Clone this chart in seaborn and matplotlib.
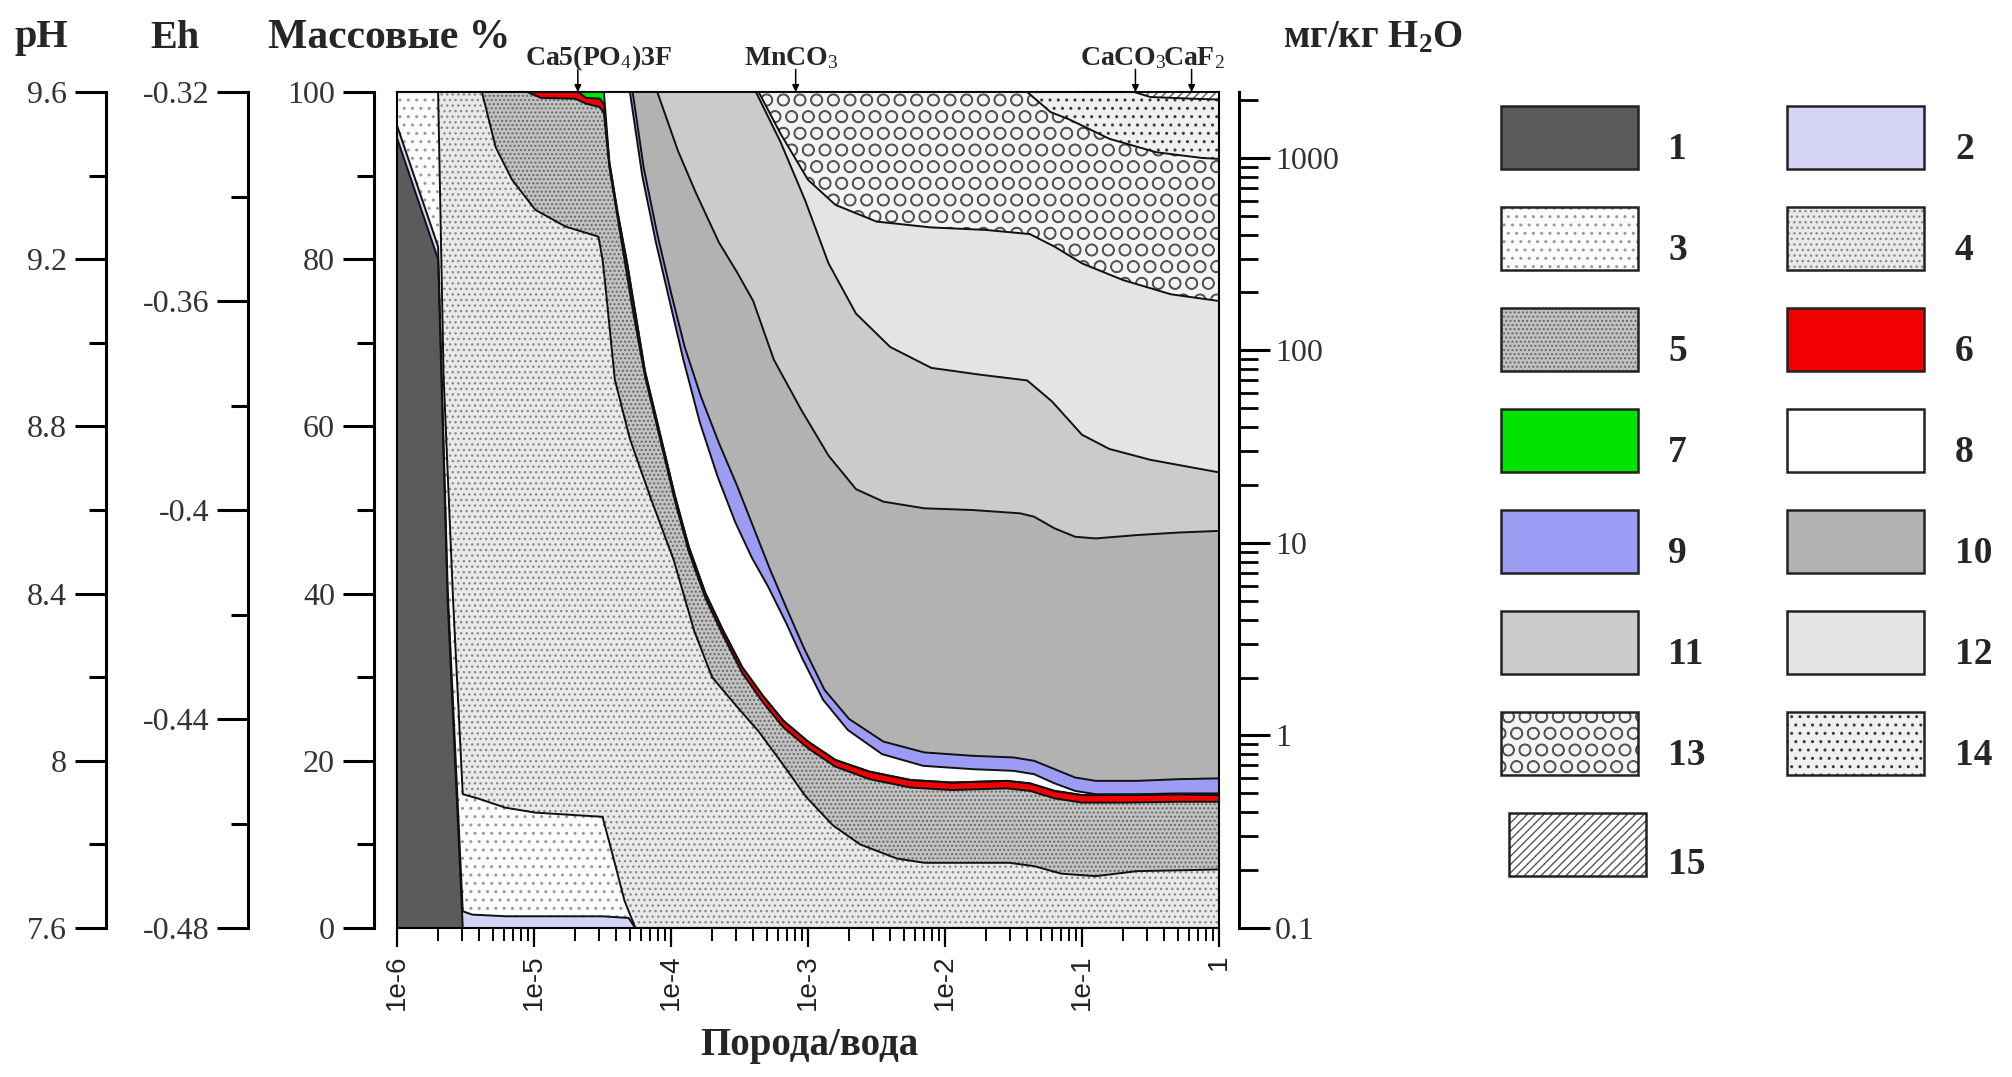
import numpy as np
import matplotlib
matplotlib.use("Agg")
import matplotlib.pyplot as plt
from matplotlib.patches import Rectangle
from matplotlib.ticker import LogLocator, NullFormatter, FixedLocator
import seaborn as sns

sns.set_theme(style="white")
plt.rcParams["font.family"] = ["Liberation Serif", "DejaVu Serif"]
plt.rcParams["mathtext.fontset"] = "custom"
plt.rcParams["mathtext.rm"] = "Liberation Serif"
plt.rcParams["mathtext.bf"] = "Liberation Serif:bold"
plt.rcParams["mathtext.it"] = "Liberation Serif:italic"
plt.rcParams["hatch.linewidth"] = 1.0

# ---------------- data: upper edge (cumulative mass %) of each mineral zone ----------------
# x values are log10(rock/water)
z1_x = [-6.00, -5.70, -5.63, -5.52]
z1_y = [94.5, 80.0, 39.0, 0.0]
z2_x = [-6.00, -5.70, -5.63, -5.52, -5.45, -5.20, -4.50, -4.31, -4.26]
z2_y = [96.0, 81.5, 40.5, 2.0, 1.6, 1.4, 1.4, 1.2, 0.0]
z3_x = [-6.00, -5.70, -5.66, -5.59, -5.52, -5.41, -5.21, -4.99, -4.50, -4.43, -4.34, -4.26]
z3_y = [100.0, 100.0, 66.0, 39.0, 16.0, 15.5, 14.4, 13.8, 13.3, 9.0, 3.3, 0.0]
z4_x = [-6.00, -5.38, -5.28, -5.16, -4.99, -4.77, -4.53, -4.50, -4.48, -4.41, -4.30, -4.15,
        -3.98, -3.83, -3.70, -3.52, -3.36, -3.18, -3.02, -2.82, -2.62, -2.35, -2.15, -1.53,
        -1.35, -1.15, -0.90, -0.60, 0.00]
z4_y = [100.0, 100.0, 93.4, 89.5, 85.9, 83.9, 82.7, 80.0, 77.0, 65.6, 58.5, 51.5,
        44.0, 35.5, 30.0, 26.5, 23.5, 19.5, 15.8, 12.3, 10.0, 8.3, 7.8, 7.8,
        7.4, 6.5, 6.2, 6.8, 7.0]
z5_x = [-6.00, -5.05, -4.95, -4.70, -4.62, -4.52, -4.49, -4.45, -4.39, -4.28, -4.19, -4.08,
        -3.97, -3.87, -3.75, -3.62, -3.48, -3.33, -3.18, -3.00, -2.80, -2.55, -2.25, -1.95,
        -1.55, -1.38, -1.20, -1.00, -0.70, -0.30, 0.00]
z5_y = [100.0, 100.0, 99.3, 99.2, 98.6, 98.2, 97.5, 91.0, 85.0, 74.0, 66.0, 58.5,
        51.0, 45.0, 39.5, 35.0, 30.5, 27.0, 24.0, 21.5, 19.3, 17.8, 16.8, 16.5,
        16.7, 16.4, 15.5, 15.0, 15.0, 15.1, 15.1]
z6_x = [-6.00, -4.68, -4.62, -4.52, -4.49, -4.45, -4.39, -4.32, -4.28, -4.19, -4.08, -3.97,
        -3.87, -3.75, -3.62, -3.48, -3.33, -3.18, -3.00, -2.80, -2.55, -2.25, -1.95, -1.55,
        -1.38, -1.20, -1.00, -0.70, -0.30, 0.00]
z6_y = [100.0, 100.0, 99.3, 99.2, 98.5, 91.6, 85.6, 79.5, 75.5, 66.6, 59.1, 51.6,
        45.6, 40.1, 35.6, 31.2, 27.8, 24.8, 22.3, 20.1, 18.7, 17.7, 17.4, 17.6,
        17.3, 16.4, 15.9, 15.9, 16.0, 15.9]
z7_x = [-6.00, -4.49, -4.45, -4.39, -4.32, -4.28, -4.19, -4.08, -3.97, -3.87, -3.75, -3.62,
        -3.48, -3.33, -3.18, -3.00, -2.80, -2.55, -2.25, -1.95, -1.55, -1.38, -1.20, -1.00,
        -0.70, -0.30, 0.00]
z7_y = [100.0, 100.0, 91.6, 85.6, 79.5, 75.5, 66.6, 59.1, 51.6, 45.6, 40.1, 35.6,
        31.2, 27.8, 24.8, 22.3, 20.1, 18.7, 17.7, 17.4, 17.6, 17.3, 16.4, 15.9,
        15.9, 16.0, 15.9]
z8_x = [-6.00, -4.30, -4.21, -4.11, -4.01, -3.91, -3.79, -3.66, -3.53, -3.41, -3.29, -3.16,
        -3.04, -2.89, -2.71, -2.46, -2.16, -1.80, -1.50, -1.35, -1.20, -1.05, -0.90, -0.60,
        -0.30, 0.00]
z8_y = [100.0, 100.0, 90.0, 82.0, 75.0, 68.0, 60.5, 54.0, 48.5, 44.3, 40.8, 36.5,
        32.2, 27.3, 23.7, 20.8, 19.4, 19.0, 18.8, 18.4, 17.3, 16.4, 16.0, 16.0,
        16.1, 16.1]
z9_x = [-6.00, -4.28, -4.20, -4.10, -4.00, -3.90, -3.78, -3.65, -3.52, -3.40, -3.28, -3.15,
        -3.03, -2.88, -2.70, -2.45, -2.15, -1.80, -1.50, -1.35, -1.20, -1.05, -0.90, -0.60,
        -0.30, 0.00]
z9_y = [100.0, 100.0, 91.0, 83.0, 76.0, 69.5, 63.5, 58.0, 53.0, 48.0, 43.0, 38.0,
        33.5, 28.5, 25.0, 22.3, 21.0, 20.6, 20.4, 20.0, 19.0, 18.0, 17.6, 17.6,
        17.8, 17.9]
z10_x = [-6.00, -4.10, -3.95, -3.82, -3.65, -3.52, -3.40, -3.25, -3.05, -2.85, -2.65, -2.45,
         -2.15, -1.80, -1.45, -1.35, -1.20, -1.05, -0.90, -0.60, -0.30, 0.00]
z10_y = [100.0, 100.0, 93.0, 88.0, 82.0, 78.5, 75.0, 68.0, 62.0, 56.5, 52.5, 51.0,
         50.2, 50.0, 49.6, 49.2, 47.8, 46.8, 46.6, 47.0, 47.3, 47.5]
z11_x = [-6.00, -3.38, -3.20, -3.02, -2.85, -2.65, -2.40, -2.10, -1.75, -1.40, -1.22, -1.00,
         -0.80, -0.50, 0.00]
z11_y = [100.0, 100.0, 94.0, 87.0, 79.5, 73.5, 69.5, 67.0, 66.2, 65.5, 63.0, 59.0,
         57.3, 56.0, 54.5]
z12_x = [-6.00, -3.36, -3.20, -3.00, -2.80, -2.50, -2.10, -1.70, -1.38, -1.20, -1.00, -0.70,
         -0.35, 0.00]
z12_y = [100.0, 100.0, 95.0, 89.5, 86.5, 84.5, 83.8, 83.5, 83.0, 81.5, 79.5, 77.5,
         75.8, 75.0]
z13_x = [-6.00, -1.40, -1.23, -1.09, -0.80, -0.46, -0.12, 0.00]
z13_y = [100.0, 100.0, 97.6, 96.7, 94.4, 92.8, 92.1, 92.0]
z14_x = [-6.00, -0.62, -0.50, -0.20, 0.00]
z14_y = [100.0, 100.0, 99.4, 99.2, 99.1]
z15_x = [-6.00, 0.00]
z15_y = [100.0, 100.0]

zone_labels = [str(i) for i in range(1, 16)]
x_tick_labels = ["1e-6", "1e-5", "1e-4", "1e-3", "1e-2", "1e-1", "1"]
ph_ticks = [7.6, 8.0, 8.4, 8.8, 9.2, 9.6]
ph_labels = ["7.6", "8", "8.4", "8.8", "9.2", "9.6"]
eh_ticks = [-0.48, -0.44, -0.40, -0.36, -0.32]
eh_labels = ["-0.48", "-0.44", "-0.4", "-0.36", "-0.32"]
pct_ticks = [0, 20, 40, 60, 80, 100]
conc_ticks = [0.1, 1, 10, 100, 1000]
conc_labels = ["0.1", "1", "10", "100", "1000"]
minerals = ["Ca5(PO$_4$)3F", "MnCO$_3$", "CaCO$_3$", "CaF$_2$"]
mineral_pos = [-4.68, -3.09, -0.61, -0.20]
mineral_text_pos = [-4.53, -3.12, -0.70, -0.18]

zones_x = [z1_x, z2_x, z3_x, z4_x, z5_x, z6_x, z7_x, z8_x, z9_x, z10_x, z11_x, z12_x, z13_x, z14_x, z15_x]
zones_y = [z1_y, z2_y, z3_y, z4_y, z5_y, z6_y, z7_y, z8_y, z9_y, z10_y, z11_y, z12_y, z13_y, z14_y, z15_y]

# ---------------- styles ----------------
styles = [
    dict(fc="#5b5b5b", hatch=None, hc=None),
    dict(fc="#d6d4f6", hatch=None, hc=None),
    dict(fc="#fcfcfc", hatch="..", hc="#9a9a9a"),
    dict(fc="#e9e9e9", hatch="...", hc="#8a8a8a"),
    dict(fc="#c2c2c2", hatch="....", hc="#676767"),
    dict(fc="#f00000", hatch=None, hc=None),
    dict(fc="#00e400", hatch=None, hc=None),
    dict(fc="#ffffff", hatch=None, hc=None),
    dict(fc="#9c9cf4", hatch=None, hc=None),
    dict(fc="#b2b2b2", hatch=None, hc=None),
    dict(fc="#cbcbcb", hatch=None, hc=None),
    dict(fc="#e4e4e4", hatch=None, hc=None),
    dict(fc="#f4f4f4", hatch="O", hc="#555555"),
    dict(fc="#f0f0f0", hatch="..", hc="#3a3a3a"),
    dict(fc="#ffffff", hatch="////", hc="#555555"),
]

W, H = 2012, 1077
fig = plt.figure(figsize=(W / 100, H / 100), dpi=100)
fig.patch.set_facecolor("white")

PL, PR, PT, PB = 397, 1219, 92, 928


def fx(px):
    return px / W


def fy(py):
    return 1 - py / H


ax = fig.add_axes([fx(PL), fy(PB), (PR - PL) / W, (PB - PT) / H])
ax.set_xscale("log")
ax.set_xlim(1e-6, 1)
ax.set_ylim(0, 100)
ax.set_facecolor("white")

for k in reversed(range(15)):
    xs = 10 ** np.asarray(zones_x[k])
    ys = np.asarray(zones_y[k])
    st = styles[k]
    if st["hatch"]:
        ax.fill_between(xs, 0, ys, facecolor=st["fc"], edgecolor=st["hc"],
                        hatch=st["hatch"], linewidth=0, zorder=2)
    else:
        ax.fill_between(xs, 0, ys, facecolor=st["fc"], edgecolor="none",
                        linewidth=0, zorder=2)

for k in range(15):
    xs = 10 ** np.asarray(zones_x[k])
    ys = np.asarray(zones_y[k])
    sns.lineplot(x=xs, y=ys, ax=ax, color="#111111", linewidth=1.4,
                 sort=False, estimator=None, legend=False, zorder=3)

ax.set_yticks([])
ax.set_xticks([10.0 ** p for p in range(-6, 1)])
ax.set_xticklabels(x_tick_labels, fontfamily="Liberation Sans", fontsize=20,
                   rotation=90, color="#222222")
ax.xaxis.set_minor_locator(LogLocator(base=10, subs=np.arange(2, 10), numticks=30))
ax.xaxis.set_minor_formatter(NullFormatter())
ax.tick_params(axis="x", which="major", direction="out", length=14, width=1.6,
               pad=5, bottom=True, top=False, color="black")
ax.tick_params(axis="x", which="minor", direction="out", length=9, width=1.4,
               bottom=True, top=False, color="black")
for s in ax.spines.values():
    s.set_visible(True)
    s.set_color("black")
    s.set_linewidth(1.5)
ax.set_xlabel("")
ax.set_ylabel("")

# mineral annotations along top
for name, xp, tp in zip(minerals, mineral_pos, mineral_text_pos):
    ax.annotate("", xy=(10 ** xp, 100), xytext=(10 ** xp, 102.7),
                arrowprops=dict(arrowstyle="-|>", color="black", lw=1.1,
                                mutation_scale=10, shrinkA=0, shrinkB=0),
                annotation_clip=False)
    ax.text(10 ** tp, 104.0, name, ha="center", va="center", fontsize=20,
            fontweight="bold", clip_on=False)


# ---------------- side axes ----------------
def side_axis(xpix, lo, hi, ticks, labels, minor):
    a = fig.add_axes([fx(xpix), fy(PB), 0.0004, (PB - PT) / H])
    a.set_ylim(lo, hi)
    a.patch.set_visible(False)
    for s in ["top", "right", "bottom"]:
        a.spines[s].set_visible(False)
    a.spines["left"].set_linewidth(2.2)
    a.spines["left"].set_color("black")
    a.set_xticks([])
    a.yaxis.set_major_locator(FixedLocator(ticks))
    a.set_yticklabels(labels)
    a.yaxis.set_minor_locator(FixedLocator(minor))
    a.tick_params(axis="y", which="major", direction="out", length=22, width=2.2,
                  labelsize=23, pad=6, labelcolor="#333333", color="black", left=True)
    a.tick_params(axis="y", which="minor", direction="out", length=12, width=2.2,
                  color="black", left=True)
    return a


side_axis(106, 7.6, 9.6, ph_ticks, ph_labels, [7.8, 8.2, 8.6, 9.0, 9.4])
side_axis(248, -0.48, -0.32, eh_ticks, eh_labels, [-0.46, -0.42, -0.38, -0.34])
side_axis(374, 0, 100, pct_ticks, [str(t) for t in pct_ticks], [10, 30, 50, 70, 90])

r = fig.add_axes([fx(1239) - 0.0004, fy(PB), 0.0004, (PB - PT) / H])
r.patch.set_visible(False)
r.set_yscale("log")
r.set_ylim(0.1, 2200)
for s in ["top", "left", "bottom"]:
    r.spines[s].set_visible(False)
r.spines["right"].set_linewidth(2.2)
r.spines["right"].set_color("black")
r.set_xticks([])
r.yaxis.tick_right()
r.set_yticks(conc_ticks)
r.set_yticklabels(conc_labels)
r.yaxis.set_minor_locator(LogLocator(base=10, subs=np.arange(2, 10), numticks=30))
r.yaxis.set_minor_formatter(NullFormatter())
r.tick_params(axis="y", which="major", direction="out", length=22, width=2.2,
              labelsize=23, pad=4, labelcolor="#333333", color="black", right=True, left=False)
r.tick_params(axis="y", which="minor", direction="out", length=14, width=2.0,
              color="black", right=True, left=False)

# ---------------- headings ----------------
fig.text(fx(41), fy(38), "pH", ha="center", va="center", fontsize=29, fontweight="bold")
fig.text(fx(175), fy(38), "Eh", ha="center", va="center", fontsize=29, fontweight="bold")
fig.text(fx(268), fy(38), "Массовые %", ha="left", va="center", fontsize=30, fontweight="bold")
fig.text(fx(1283), fy(38), r"мг/кг H$_\mathbf{2}$O", ha="left", va="center", fontsize=28,
         fontweight="bold")
fig.text(fx(809), fy(1046), "Порода/вода", ha="center", va="center", fontsize=28,
         fontweight="bold")

# ---------------- legend ----------------
lg = fig.add_axes([0, 0, 1, 1])
lg.set_xlim(0, W)
lg.set_ylim(H, 0)
lg.axis("off")
lg.patch.set_visible(False)
for i in range(15):
    col = i % 2
    row = i // 2
    x0 = 1501 if col == 0 else 1787
    if i == 14:
        x0 = 1509
    y0 = 106 + 101 * row
    w, h = 137, 63
    st = styles[i]
    if st["hatch"]:
        lg.add_patch(Rectangle((x0, y0), w, h, facecolor=st["fc"], edgecolor=st["hc"],
                               hatch=st["hatch"], linewidth=0))
    else:
        lg.add_patch(Rectangle((x0, y0), w, h, facecolor=st["fc"], edgecolor="none",
                               linewidth=0))
    lg.add_patch(Rectangle((x0, y0), w, h, fill=False, edgecolor="#222222", linewidth=1.8))
    lx = 1668 if col == 0 else 1955
    ly = y0 + h / 2 + (20 if i == 14 else 12)
    lg.text(lx, ly, zone_labels[i], ha="left", va="center", fontsize=27, fontweight="bold")

fig.savefig("out.png", dpi=100, facecolor="white")
